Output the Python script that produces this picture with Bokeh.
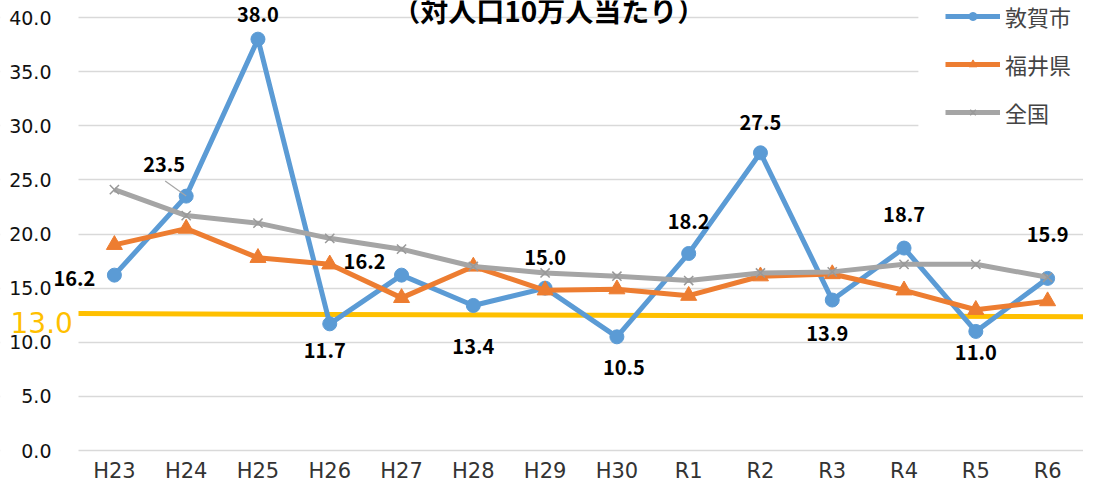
from bokeh.plotting import figure
from bokeh.models import (Label, Legend, LegendItem, Range1d, FixedTicker,
                          BoxAnnotation, ColumnDataSource)
from bokeh.core.properties import value
from bokeh.embed import file_html
from bokeh.resources import INLINE

# ---- data ----
years = ["H23", "H24", "H25", "H26", "H27", "H28", "H29", "H30",
         "R1", "R2", "R3", "R4", "R5", "R6"]
tsuruga = [16.2, 23.5, 38.0, 11.7, 16.2, 13.4, 15.0, 10.5, 18.2, 27.5, 13.9, 18.7, 11.0, 15.9]
fukui = [19.0, 20.5, 17.8, 17.2, 14.1, 17.0, 14.8, 14.9, 14.3, 16.1, 16.3, 14.8, 13.0, 13.8]
zenkoku = [24.1, 21.7, 21.0, 19.6, 18.6, 17.0, 16.4, 16.1, 15.7, 16.4, 16.5, 17.2, 17.2, 16.0]
series_names = ["敦賀市", "福井県", "全国"]
y_ticks = [0, 5, 10, 15, 20, 25, 30, 35, 40]
y_tick_labels = ["%.1f" % t for t in y_ticks]
target_text = "13.0"
target_line = [12.65, 12.35]   # drawn target line (left end, right end)
title_text = "（対人口10万人当たり）"

# label placement (screen px, y up) for 敦賀市 data labels
label_dx = [-40, -22, 0, -5, -37, 0, 0, 7, 0, 0, -5, 0, 0, 0]
label_dy = [-3, 32, 25, -27, 14, -41, 31, -31, 32, 30, -33, 34, -21, 44]

BLUE = "#5B9BD5"
ORANGE = "#ED7D31"
GRAY = "#A5A5A5"
YELLOW = "#FFC000"

W, H = 1083, 482
LEFT = 78                 # px left of the plot area
ZERO_PX, TOP40_PX = 450, 17
n = len(years)
px_x = (W - LEFT) / n                         # px per category
px_y = (ZERO_PX - TOP40_PX) / 40.0            # px per unit
Y_TOP = 40 + TOP40_PX / px_y
Y_BOT = -(H - ZERO_PX) / px_y
X0 = -0.5 - LEFT / px_x                       # left edge of the canvas in data units
xs = list(range(n))

p = figure(x_range=Range1d(X0, n - 0.5), y_range=Range1d(Y_BOT, Y_TOP),
           width=W, height=H, output_backend="svg", toolbar_location=None,
           x_axis_location=None, y_axis_location=None,
           min_border_left=0, min_border_right=0, min_border_top=0, min_border_bottom=0)
p.outline_line_color = None
p.background_fill_color = "white"
p.border_fill_color = "white"

p.xgrid.grid_line_color = None
p.ygrid.ticker = FixedTicker(ticks=y_ticks)
p.ygrid.grid_line_color = "#D9D9D9"
p.ygrid.grid_line_width = 1.5

# white areas: left of the plot area, and behind the legend
p.add_layout(BoxAnnotation(left=X0, right=-0.5, bottom=Y_BOT, top=Y_TOP, fill_color="white",
                           fill_alpha=1, line_alpha=0, level="underlay"))
p.add_layout(BoxAnnotation(left=11.2, right=n - 0.5, bottom=29.2, top=Y_TOP, fill_color="white",
                           fill_alpha=1, line_alpha=0, level="underlay"))

# y tick labels
ysrc = ColumnDataSource(dict(x=[-0.5 - 27 / px_x] * len(y_ticks), y=y_ticks, t=y_tick_labels))
p.text(x="x", y="y", text="t", source=ysrc, text_align="right", text_baseline="middle",
       text_font=value("DejaVu Sans"), text_font_size="19px", text_color="#111111")

# x tick labels (category names)
xsrc = ColumnDataSource(dict(x=xs, y=[-20 / px_y] * n, t=years))
p.text(x="x", y="y", text="t", source=xsrc, text_align="center", text_baseline="middle",
       text_font=value("DejaVu Sans"), text_font_size="21px", text_color="#333333")

# target line and its label
p.line(x=[-0.5, n - 0.5], y=target_line, line_color=YELLOW, line_width=5)
p.add_layout(Label(x=X0 + 10 / px_x, y=target_line[0], text=target_text, text_align="left",
                   text_baseline="middle", y_offset=-9, text_font="DejaVu Sans",
                   text_font_size="28px", text_color=YELLOW))

# series
l1 = p.line(x=xs, y=tsuruga, line_color=BLUE, line_width=5, line_join="round")
s1 = p.scatter(x=xs, y=tsuruga, marker="circle", size=14, fill_color=BLUE, line_color=BLUE)
l2 = p.line(x=xs, y=fukui, line_color=ORANGE, line_width=5, line_join="round")
s2 = p.scatter(x=xs, y=fukui, marker="triangle", size=16, fill_color=ORANGE, line_color=ORANGE)
l3 = p.line(x=xs, y=zenkoku, line_color=GRAY, line_width=5, line_join="round")
s3 = p.scatter(x=xs, y=zenkoku, marker="x", size=13, line_color="#999999", line_width=1.5)

# leader line for the H24 label
i24 = years.index("H24")
p.segment(x0=[i24], y0=[tsuruga[i24]], x1=[i24 - 21 / px_x], y1=[tsuruga[i24] + 15 / px_y],
          line_color="#A6A6A6", line_width=1.2)

# data labels
for i, v in enumerate(tsuruga):
    p.add_layout(Label(x=i, y=v, text="%.1f" % v, x_offset=label_dx[i], y_offset=label_dy[i],
                       text_align="center", text_baseline="middle", text_font="Noto Sans CJK JP",
                       text_font_style="bold", text_font_size="20px", text_color="black"))

# title, cut off by the top edge as in the original
p.add_layout(Label(x=6.05, y=Y_TOP - 9 / px_y, text=title_text, text_align="center",
                   text_baseline="alphabetic", text_font="Noto Sans CJK JP",
                   text_font_style="bold", text_font_size="28px", text_color="black"))

legend = Legend(items=[LegendItem(label=series_names[0], renderers=[l1, s1]),
                       LegendItem(label=series_names[1], renderers=[l2, s2]),
                       LegendItem(label=series_names[2], renderers=[l3, s3])],
                location="top_right", margin=0, padding=0, spacing=16,
                glyph_width=55, glyph_height=20, label_height=20, label_width=78,
                label_standoff=5, label_text_font="Noto Sans CJK JP",
                label_text_font_size="22px", border_line_color=None,
                background_fill_color="white", background_fill_alpha=1)
p.add_layout(legend)

open("out.html", "w").write(file_html(p, INLINE))
